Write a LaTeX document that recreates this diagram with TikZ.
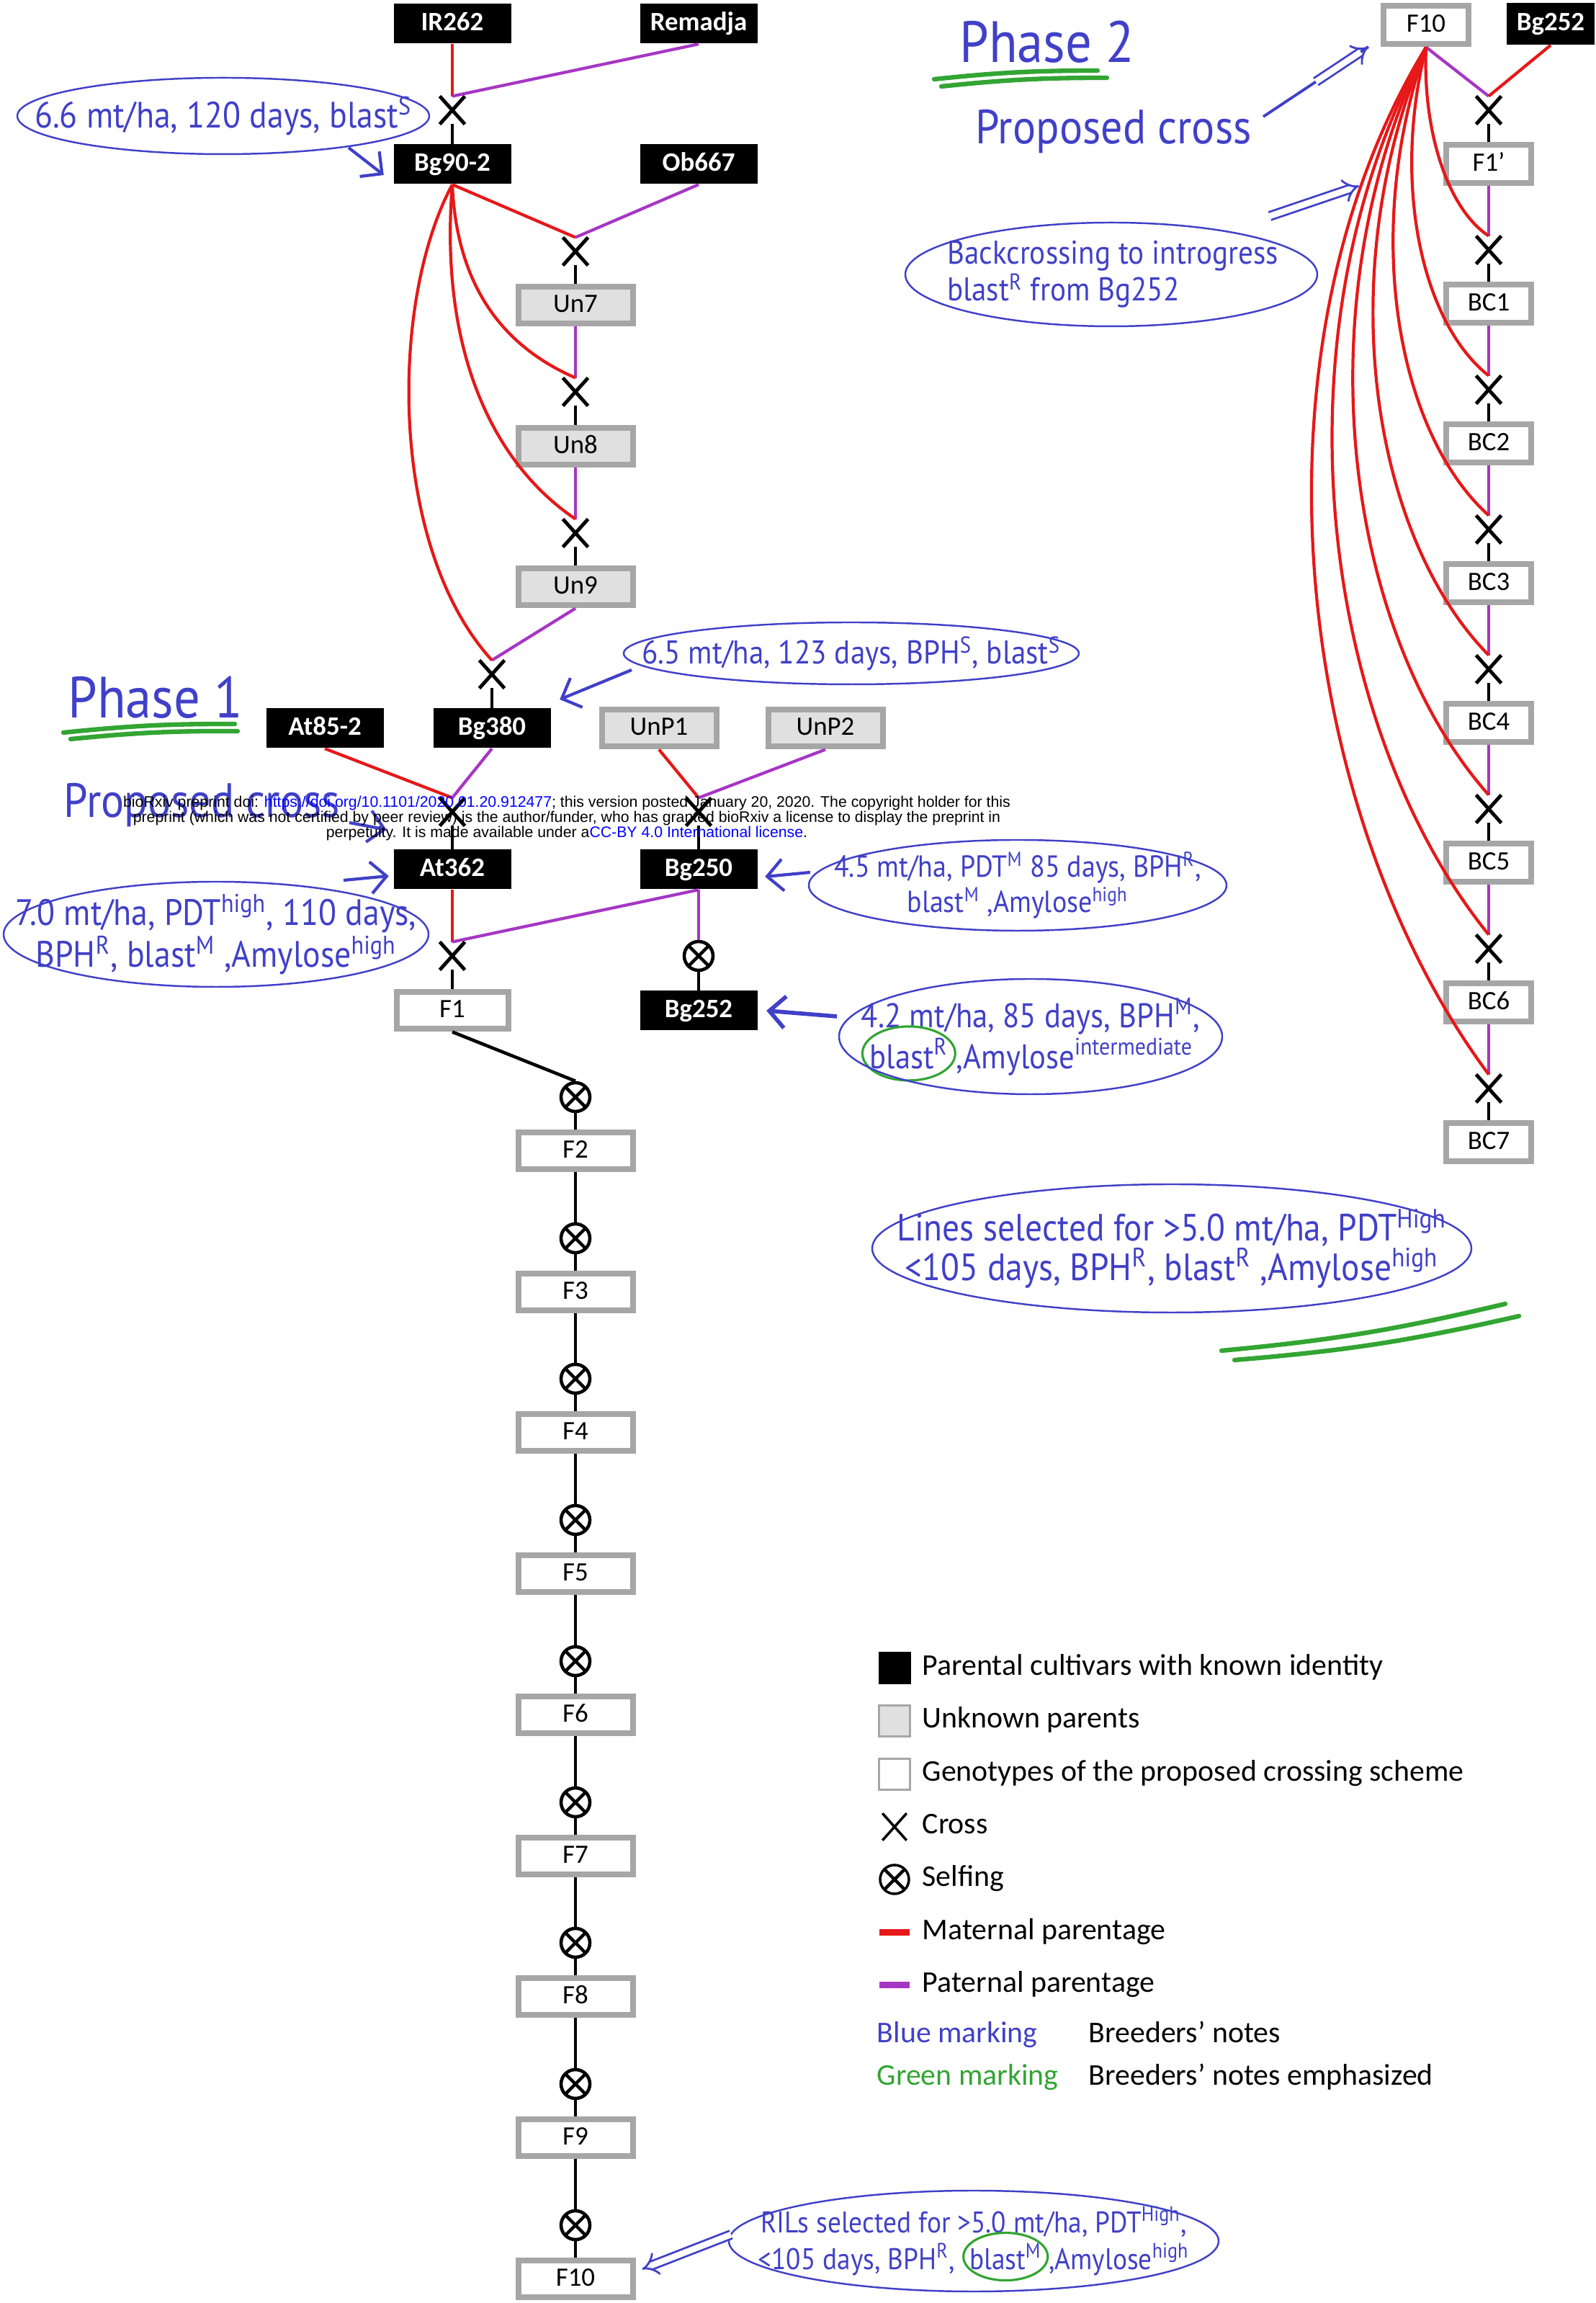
\documentclass[tikz,border=0pt]{standalone}
\usepackage{fontspec}
\setmainfont{Carlito}
\newfontfamily\handfont[FakeStretch=0.9]{PT Sans}
\newfontfamily\preprintfont{Liberation Sans}
\usetikzlibrary{shapes.geometric,shapes.misc,arrows.meta,calc}

\definecolor{maternal}{RGB}{230,24,24}
\definecolor{paternal}{RGB}{166,54,196}
\definecolor{boxgray}{RGB}{166,166,166}
\definecolor{unknownfill}{RGB}{224,224,224}
\definecolor{ink}{RGB}{64,64,200}
\definecolor{marker}{RGB}{50,165,50}

\newcommand{\greenring}[1]{\smash{\tikz[baseline]\node[anchor=base,ellipse,draw=marker,line width=0.9pt,inner xsep=-2.5pt,inner ysep=1.5pt]{#1};}}

\tikzset{
  known/.style={fill=black, text=white, font=\fontsize{10.5}{12}\selectfont\bfseries,
    minimum width=1.63cm, minimum height=0.55cm, inner sep=0pt, text height=0.25cm, text depth=0.06cm},
  unknown/.style={draw=boxgray, fill=unknownfill, line width=0.08cm, font=\fontsize{10.5}{12}\selectfont,
    minimum width=1.59cm, minimum height=0.51cm, inner sep=0pt, text height=0.25cm, text depth=0.06cm},
  proposed/.style={unknown, fill=white},
  backcross/.style={proposed, minimum width=1.18cm, minimum height=0.53cm},
  crossing/.style={cross out, draw, line width=1.4pt, minimum width=0.3cm, minimum height=0.34cm, inner sep=0pt},
  selfing/.style={circle, draw, line width=1.3pt, minimum size=0.4cm, inner sep=0pt,
    path picture={\draw[line width=1.3pt] (path picture bounding box.north west) -- (path picture bounding box.south east)
      (path picture bounding box.north east) -- (path picture bounding box.south west);}},
  mat/.style={maternal, line width=1.2pt},
  pat/.style={paternal, line width=1.2pt},
  link/.style={line width=1.3pt},
  notetext/.style={text=ink, font=\handfont\fontsize{14}{16}\selectfont, align=center, inner sep=0pt},
  notering/.style={ink, line width=0.7pt},
  pointer/.style={ink, line width=1.2pt, -{Straight Barb[length=2.2mm,width=4.4mm]}},
  hollowpointer/.style={ink, double, double distance=2.4pt, line width=0.8pt, -{Implies}},
  underline/.style={marker, line width=1.8pt, line cap=round},
  keytext/.style={anchor=west, font=\fontsize{11.9}{13}\selectfont, inner sep=0pt, text height=0.3cm, text depth=0.1cm},
}

\begin{document}
\begin{tikzpicture}
  \useasboundingbox (0,0) rectangle (22.16,31.97);

  % phase 1: known parents and unknown intermediates
  \node[known] (IR262) at (6.28,31.64) {IR262};
  \node[known] (Remadja) at (9.70,31.64) {Remadja};
  \node[crossing] (xa) at (6.28,30.44) {};
  \node[known] (Bg902) at (6.28,29.69) {Bg90-2};
  \node[known] (Ob667) at (9.70,29.69) {Ob667};
  \node[crossing] (xb) at (7.99,28.48) {};
  \node[unknown] (Un7) at (7.99,27.73) {Un7};
  \node[crossing] (xc) at (7.99,26.53) {};
  \node[unknown] (Un8) at (7.99,25.77) {Un8};
  \node[crossing] (xd) at (7.99,24.57) {};
  \node[unknown] (Un9) at (7.99,23.82) {Un9};
  \node[crossing] (xe) at (6.83,22.61) {};
  \node[known] (At852) at (4.51,21.86) {At85-2};
  \node[known] (Bg380) at (6.83,21.86) {Bg380};
  \node[unknown] (UnP1) at (9.15,21.86) {UnP1};
  \node[unknown] (UnP2) at (11.46,21.86) {UnP2};
  \node[crossing] (xf) at (6.28,20.70) {};
  \node[crossing] (xg) at (9.70,20.70) {};
  \node[known] (At362) at (6.28,19.90) {At362};
  \node[known] (Bg250) at (9.70,19.90) {Bg250};
  \node[crossing] (xh) at (6.28,18.70) {};
  \node[selfing] (sa) at (9.70,18.70) {};
  \node[proposed, minimum width=1.55cm] (F1) at (6.28,17.94) {F1};
  \node[known] (Bg252) at (9.70,17.94) {Bg252};

  % selfing generations
  \node[selfing] (s2) at (7.99,16.74) {};
  \node[proposed] (F2) at (7.99,15.99) {F2};
  \node[selfing] (s3) at (7.99,14.78) {};
  \node[proposed] (F3) at (7.99,14.03) {F3};
  \node[selfing] (s4) at (7.99,12.83) {};
  \node[proposed] (F4) at (7.99,12.08) {F4};
  \node[selfing] (s5) at (7.99,10.87) {};
  \node[proposed] (F5) at (7.99,10.12) {F5};
  \node[selfing] (s6) at (7.99,8.91) {};
  \node[proposed] (F6) at (7.99,8.16) {F6};
  \node[selfing] (s7) at (7.99,6.95) {};
  \node[proposed] (F7) at (7.99,6.20) {F7};
  \node[selfing] (s8) at (7.99,5.00) {};
  \node[proposed] (F8) at (7.99,4.25) {F8};
  \node[selfing] (s9) at (7.99,3.04) {};
  \node[proposed] (F9) at (7.99,2.29) {F9};
  \node[selfing] (s10) at (7.99,1.08) {};
  \node[proposed] (F10) at (7.99,0.33) {F10};

  % phase 2: backcrossing
  \node[backcross] (F10top) at (19.80,31.62) {F10};
  \node[known, minimum width=1.22cm, minimum height=0.58cm] (Bg252top) at (21.53,31.64) {Bg252};
  \node[crossing] (r0) at (20.67,30.44) {};
  \node[backcross] (F1p) at (20.67,29.69) {F1’};
  \node[crossing] (r1) at (20.67,28.50) {};
  \node[backcross] (BC1) at (20.67,27.75) {BC1};
  \node[crossing] (r2) at (20.67,26.56) {};
  \node[backcross] (BC2) at (20.67,25.81) {BC2};
  \node[crossing] (r3) at (20.67,24.62) {};
  \node[backcross] (BC3) at (20.67,23.87) {BC3};
  \node[crossing] (r4) at (20.67,22.68) {};
  \node[backcross] (BC4) at (20.67,21.93) {BC4};
  \node[crossing] (r5) at (20.67,20.74) {};
  \node[backcross] (BC5) at (20.67,19.99) {BC5};
  \node[crossing] (r6) at (20.67,18.80) {};
  \node[backcross] (BC6) at (20.67,18.05) {BC6};
  \node[crossing] (r7) at (20.67,16.86) {};
  \node[backcross] (BC7) at (20.67,16.11) {BC7};

  % parentage, phase 1
  \draw[mat] (IR262.south) -- (xa.north);
  \draw[pat] (Remadja.south) -- (xa.north);
  \draw[link] (xa.south) -- (Bg902.north);
  \draw[mat] (Bg902.south) -- (xb.north);
  \draw[pat] (Ob667.south) -- (xb.north);
  \draw[link] (xb.south) -- (Un7.north);
  \draw[pat] (Un7.south) -- (xc.north);
  \draw[mat] (Bg902.south) .. controls (6.35,27.77) and (7.20,27.07) .. (xc.north);
  \draw[link] (xc.south) -- (Un8.north);
  \draw[pat] (Un8.south) -- (xd.north);
  \draw[mat] (Bg902.south) .. controls (6.10,27.17) and (6.80,25.57) .. (xd.north);
  \draw[link] (xd.south) -- (Un9.north);
  \draw[pat] (Un9.south) -- (xe.north);
  \draw[mat] (Bg902.south) .. controls (5.40,27.77) and (5.40,24.37) .. (xe.north);
  \draw[link] (xe.south) -- (Bg380.north);
  \draw[mat] (At852.south) -- (xf.north);
  \draw[pat] (Bg380.south) -- (xf.north);
  \draw[link] (xf.south) -- (At362.north);
  \draw[mat] (UnP1.south) -- (xg.north);
  \draw[pat] (UnP2.south) -- (xg.north);
  \draw[link] (xg.south) -- (Bg250.north);
  \draw[mat] (At362.south) -- (xh.north);
  \draw[pat] (Bg250.south) -- (xh.north);
  \draw[pat] (Bg250.south) -- (sa.north);
  \draw[link] (sa.south) -- (Bg252.north);
  \draw[link] (xh.south) -- (F1.north);
  \draw[link] (F1.south) -- (s2.north);
  \draw[link] (s2.south) -- (F2.north);
  \draw[link] (F2.south) -- (s3.north);
  \draw[link] (s3.south) -- (F3.north);
  \draw[link] (F3.south) -- (s4.north);
  \draw[link] (s4.south) -- (F4.north);
  \draw[link] (F4.south) -- (s5.north);
  \draw[link] (s5.south) -- (F5.north);
  \draw[link] (F5.south) -- (s6.north);
  \draw[link] (s6.south) -- (F6.north);
  \draw[link] (F6.south) -- (s7.north);
  \draw[link] (s7.south) -- (F7.north);
  \draw[link] (F7.south) -- (s8.north);
  \draw[link] (s8.south) -- (F8.north);
  \draw[link] (F8.south) -- (s9.north);
  \draw[link] (s9.south) -- (F9.north);
  \draw[link] (F9.south) -- (s10.north);
  \draw[link] (s10.south) -- (F10.north);

  % parentage, phase 2
  \draw[pat] (F10top.south) -- (r0.north);
  \draw[mat] (Bg252top.south) -- (r0.north);
  \draw[link] (r0.south) -- (F1p.north);
  \draw[pat] (F1p.south) -- (r1.north);
  \draw[link] (r1.south) -- (BC1.north);
  \draw[pat] (BC1.south) -- (r2.north);
  \draw[link] (r2.south) -- (BC2.north);
  \draw[pat] (BC2.south) -- (r3.north);
  \draw[link] (r3.south) -- (BC3.north);
  \draw[pat] (BC3.south) -- (r4.north);
  \draw[link] (r4.south) -- (BC4.north);
  \draw[pat] (BC4.south) -- (r5.north);
  \draw[link] (r5.south) -- (BC5.north);
  \draw[pat] (BC5.south) -- (r6.north);
  \draw[link] (r6.south) -- (BC6.north);
  \draw[pat] (BC6.south) -- (r7.north);
  \draw[link] (r7.south) -- (BC7.north);
  \draw[mat] (F10top.south) .. controls (19.75,30.15) and (20.10,29.07) .. (r1.north);
  \draw[mat] (F10top.south) .. controls (19.32,29.39) and (19.75,27.48) .. (r2.north);
  \draw[mat] (F10top.south) .. controls (18.90,28.73) and (19.40,25.96) .. (r3.north);
  \draw[mat] (F10top.south) .. controls (18.47,28.16) and (19.05,24.52) .. (r4.north);
  \draw[mat] (F10top.south) .. controls (18.05,27.69) and (18.70,23.15) .. (r5.north);
  \draw[mat] (F10top.south) .. controls (17.62,27.32) and (18.35,21.86) .. (r6.north);
  \draw[mat] (F10top.south) .. controls (17.20,27.05) and (18.00,20.64) .. (r7.north);

  % breeders' notes
  \node[notetext, font=\handfont\fontsize{14.5}{17}\selectfont] (note66) at (3.10,30.36) {6.6 mt/ha, 120 days, blast\textsuperscript{S}};
  \draw[notering] (note66.center) ellipse [x radius=2.86cm, y radius=0.53cm];
  \coordinate (note66tail) at (4.84,29.92);
  \draw[pointer] (note66tail) -- ([xshift=-1.3mm,yshift=-1.5mm]Bg902.west);

  \node[notetext, font=\handfont\fontsize{23}{26}\selectfont, anchor=base] (phase2) at (14.54,31.10) {Phase 2};
  \draw[underline] (12.97,30.87) to[bend left=3] (15.24,30.99);
  \draw[underline] (13.07,30.77) to[bend left=3] (15.37,30.89);
  \node[notetext, font=\handfont\fontsize{19}{22}\selectfont, anchor=base] (cross2) at (15.46,29.97) {Proposed cross};
  \coordinate (cross2tail) at (17.54,30.35);
  \coordinate (cross2tip) at (19.00,31.32);
  \draw[ink, line width=1.1pt] (cross2tail) -- (cross2tip);
  \draw[hollowpointer] ($(cross2tail)!0.5!(cross2tip)$) -- (cross2tip);

  \node[notetext, font=\handfont\fontsize{13}{14.5}\selectfont, align=left] (backnote) at (15.45,28.16) {Backcrossing to introgress\\blast\textsuperscript{R} from Bg252};
  \draw[notering] (15.43,28.16) ellipse [x radius=2.86cm, y radius=0.72cm];
  \coordinate (backtail) at (17.63,28.97);
  \coordinate (backtip) at (18.87,29.39);
  \draw[hollowpointer] (backtail) -- (backtip);

  \node[notetext, font=\handfont\fontsize{23}{26}\selectfont, anchor=base] (phase1) at (2.16,22.00) {Phase 1};
  \draw[underline] (0.88,21.80) to[bend left=3] (3.26,21.92);
  \draw[underline] (0.98,21.71) to[bend left=3] (3.30,21.82);
  \node[notetext, font=\handfont\fontsize{19}{22}\selectfont, anchor=base west] (cross1) at (0.88,20.62) {Proposed cross};
  \coordinate (cross1tail) at (4.85,20.55);
  \draw[pointer] (cross1tail) -- ([xshift=-0.9mm,yshift=2.7mm]At362.north west);

  \node[notetext, font=\handfont\fontsize{13}{15}\selectfont] (note65) at (11.82,22.90) {6.5 mt/ha, 123 days, BPH\textsuperscript{S}, blast\textsuperscript{S}};
  \draw[notering] (note65.center) ellipse [x radius=3.16cm, y radius=0.43cm];
  \coordinate (note65tail) at (8.77,22.67);
  \draw[pointer] (note65tail) -- ([xshift=1.2mm,yshift=4mm]Bg380.east);

  \node[notetext, font=\handfont\fontsize{14.5}{16.5}\selectfont] (note70) at (3.00,19.00) {7.0 mt/ha, PDT\textsuperscript{high}, 110 days,\\BPH\textsuperscript{R}, blast\textsuperscript{M} ,Amylose\textsuperscript{high}};
  \draw[notering] (note70.center) ellipse [x radius=2.95cm, y radius=0.73cm];
  \coordinate (note70tail) at (4.77,19.75);
  \draw[pointer] (note70tail) -- ([xshift=-0.6mm,yshift=-0.9mm]At362.west);

  \node[notetext, font=\handfont\fontsize{12}{14}\selectfont] (note45) at (14.13,19.68) {4.5 mt/ha, PDT\textsuperscript{M} 85 days, BPH\textsuperscript{R},\\blast\textsuperscript{M} ,Amylose\textsuperscript{high}};
  \draw[notering] (note45.center) ellipse [x radius=2.90cm, y radius=0.63cm];
  \coordinate (note45tail) at (11.25,19.86);
  \draw[pointer] (note45tail) -- ([xshift=1mm,yshift=-1mm]Bg250.east);

  \node[notetext, font=\handfont\fontsize{13.5}{16}\selectfont, align=left] (note42) at (14.31,17.58) {4.2 mt/ha, 85 days, BPH\textsuperscript{M},\\\greenring{blast\textsuperscript{R}},Amylose\textsuperscript{intermediate}};
  \draw[notering] (note42.center) ellipse [x radius=2.66cm, y radius=0.80cm];
  \coordinate (note42tail) at (11.62,17.86);
  \draw[pointer, line width=1.6pt] (note42tail) -- ([xshift=1.2mm]Bg252.east);

  \node[notetext, font=\handfont\fontsize{15}{15.5}\selectfont] (linesnote) at (16.27,14.64) {Lines selected for >5.0 mt/ha, PDT\textsuperscript{High}\\<105 days, BPH\textsuperscript{R}, blast\textsuperscript{R} ,Amylose\textsuperscript{high}};
  \draw[notering] (linesnote.center) ellipse [x radius=4.16cm, y radius=0.89cm];
  \draw[underline] (16.96,13.22) to[bend right=4] (20.90,13.87);
  \draw[underline] (17.14,13.09) to[bend right=4] (21.09,13.70);

  \node[notetext, font=\handfont\fontsize{11.8}{14.5}\selectfont] (rilnote) at (13.52,0.86) {RILs selected for >5.0 mt/ha, PDT\textsuperscript{High},\\<105 days, BPH\textsuperscript{R}, \greenring{blast\textsuperscript{M}},Amylose\textsuperscript{high}};
  \draw[notering] (rilnote.center) ellipse [x radius=3.40cm, y radius=0.70cm];
  \coordinate (riltail) at (10.15,0.95);
  \draw[hollowpointer] (riltail) -- ([xshift=0.9mm,yshift=1.4mm]F10.east);

  % key
  \node[fill=black, minimum size=0.45cm, inner sep=0pt] (keyknown) at (12.42,8.81) {};
  \node[keytext] (keyknowntext) at (12.80,8.81) {Parental cultivars with known identity};
  \node[draw=boxgray, fill=unknownfill, line width=0.8pt, minimum size=0.43cm, inner sep=0pt] (keyunknown) at (12.42,8.08) {};
  \node[keytext] (keyunknowntext) at (12.80,8.08) {Unknown parents};
  \node[draw=boxgray, fill=white, line width=0.8pt, minimum size=0.43cm, inner sep=0pt] (keyproposed) at (12.42,7.34) {};
  \node[keytext] (keyproposedtext) at (12.80,7.34) {Genotypes of the proposed crossing scheme};
  \node[crossing, line width=1pt] (keycross) at (12.42,6.61) {};
  \node[keytext] (keycrosstext) at (12.80,6.61) {Cross};
  \node[selfing, line width=1pt] (keyself) at (12.42,5.88) {};
  \node[keytext] (keyselftext) at (12.80,5.88) {Selfing};
  \draw[maternal, line width=0.09cm] (12.21,5.14) -- (12.63,5.14);
  \node[keytext] (keymattext) at (12.80,5.14) {Maternal parentage};
  \draw[paternal, line width=0.09cm] (12.21,4.41) -- (12.63,4.41);
  \node[keytext] (keypattext) at (12.80,4.41) {Paternal parentage};
  \node[keytext, text=ink] (keyblue) at (12.17,3.71) {Blue marking};
  \node[keytext] (keybluetext) at (15.11,3.71) {Breeders’ notes};
  \node[keytext, text=marker] (keygreen) at (12.17,3.12) {Green marking};
  \node[keytext] (keygreentext) at (15.11,3.12) {Breeders’ notes emphasized};

  % preprint stamp
  \node[font=\preprintfont\fontsize{6.05}{6.1}\selectfont, align=center, inner sep=0pt] (stamp) at (7.87,20.61) {bioRxiv preprint doi: \textcolor{blue}{https://doi.org/10.1101/2020.01.20.912477}; this version posted January 20, 2020. The copyright holder for this\\preprint (which was not certified by peer review) is the author/funder, who has granted bioRxiv a license to display the preprint in\\perpetuity. It is made available under a\textcolor{blue}{CC-BY 4.0 International license}.};
\end{tikzpicture}
\end{document}
